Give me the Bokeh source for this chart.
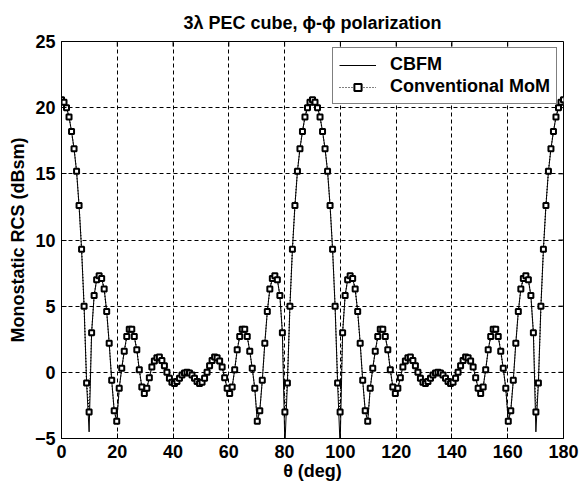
import math
from bokeh.plotting import figure
from bokeh.models import Legend, LegendItem, Range1d, FixedTicker, ColumnDataSource
from bokeh.embed import file_html
from bokeh.resources import INLINE

theta_deg = [round(0.9 * i, 1) for i in range(201)]

# Conventional MoM (markers)
mom_dbsm = [
    20.6, 20.4, 20.0, 19.3, 18.2, 16.9, 15.2, 12.6, 9.3, 5.0, -0.8, -3.0, 3.0, 5.8, 7.0, 7.3, 7.1,
    6.3, 4.6, 2.2, -0.6, -2.9, -3.7, -1.2, 0.3, 1.6, 2.7, 3.25, 3.25, 2.7, 1.7, 0.2, -1.1, -1.6,
    -1.2, -0.4, 0.4, 0.85, 1.1, 1.15, 0.9, 0.5, 0.0, -0.45, -0.75, -0.85, -0.7, -0.45, -0.2, -0.05, 0.0,
    -0.05, -0.2, -0.45, -0.7, -0.85, -0.75, -0.45, 0.0, 0.5, 0.9, 1.15, 1.1, 0.85, 0.4, -0.4, -1.2,
    -1.6, -1.1, 0.2, 1.7, 2.7, 3.25, 3.25, 2.7, 1.6, 0.3, -1.2, -3.7, -2.9, -0.6, 2.2, 4.6, 6.3, 7.1,
    7.3, 7.0, 5.8, 3.0, -3.0, -0.8, 5.0, 9.3, 12.6, 15.2, 16.9, 18.2, 19.3, 20.0, 20.4, 20.6,
    20.4, 20.0, 19.3, 18.2, 16.9, 15.2, 12.6, 9.3, 5.0, -0.8, -3.0, 3.0, 5.8, 7.0, 7.3, 7.1, 6.3,
    4.6, 2.2, -0.6, -2.9, -3.7, -1.2, 0.3, 1.6, 2.7, 3.25, 3.25, 2.7, 1.7, 0.2, -1.1, -1.6, -1.2,
    -0.4, 0.4, 0.85, 1.1, 1.15, 0.9, 0.5, 0.0, -0.45, -0.75, -0.85, -0.7, -0.45, -0.2, -0.05, 0.0,
    -0.05, -0.2, -0.45, -0.7, -0.85, -0.75, -0.45, 0.0, 0.5, 0.9, 1.15, 1.1, 0.85, 0.4, -0.4, -1.2,
    -1.6, -1.1, 0.2, 1.7, 2.7, 3.25, 3.25, 2.7, 1.6, 0.3, -1.2, -3.7, -2.9, -0.6, 2.2, 4.6, 6.3, 7.1,
    7.3, 7.0, 5.8, 3.0, -3.0, -0.8, 5.0, 9.3, 12.6, 15.2, 16.9, 18.2, 19.3, 20.0, 20.4, 20.6,
]

# CBFM (solid line) - same except deeper nulls
cbfm_dbsm = [
    20.6, 20.4, 20.0, 19.3, 18.2, 16.9, 15.2, 12.6, 9.3, 5.0, -0.8, -4.5, 3.0, 5.8, 7.0, 7.3, 7.1,
    6.3, 4.6, 2.2, -0.6, -2.9, -3.7, -1.2, 0.3, 1.6, 2.7, 3.25, 3.25, 2.7, 1.7, 0.2, -1.1, -1.6,
    -1.2, -0.4, 0.4, 0.85, 1.1, 1.15, 0.9, 0.5, 0.0, -0.45, -0.75, -0.85, -0.7, -0.45, -0.2, -0.05, 0.0,
    -0.05, -0.2, -0.45, -0.7, -0.85, -0.75, -0.45, 0.0, 0.5, 0.9, 1.15, 1.1, 0.85, 0.4, -0.4, -1.2,
    -1.6, -1.1, 0.2, 1.7, 2.7, 3.25, 3.25, 2.7, 1.6, 0.3, -1.2, -3.7, -2.9, -0.6, 2.2, 4.6, 6.3, 7.1,
    7.3, 7.0, 5.8, 3.0, -5.6, -0.8, 5.0, 9.3, 12.6, 15.2, 16.9, 18.2, 19.3, 20.0, 20.4, 20.6,
    20.4, 20.0, 19.3, 18.2, 16.9, 15.2, 12.6, 9.3, 5.0, -0.8, -5.6, 3.0, 5.8, 7.0, 7.3, 7.1, 6.3,
    4.6, 2.2, -0.6, -2.9, -3.7, -1.2, 0.3, 1.6, 2.7, 3.25, 3.25, 2.7, 1.7, 0.2, -1.1, -1.6, -1.2,
    -0.4, 0.4, 0.85, 1.1, 1.15, 0.9, 0.5, 0.0, -0.45, -0.75, -0.85, -0.7, -0.45, -0.2, -0.05, 0.0,
    -0.05, -0.2, -0.45, -0.7, -0.85, -0.75, -0.45, 0.0, 0.5, 0.9, 1.15, 1.1, 0.85, 0.4, -0.4, -1.2,
    -1.6, -1.1, 0.2, 1.7, 2.7, 3.25, 3.25, 2.7, 1.6, 0.3, -1.2, -3.7, -2.9, -0.6, 2.2, 4.6, 6.3, 7.1,
    7.3, 7.0, 5.8, 3.0, -4.5, -0.8, 5.0, 9.3, 12.6, 15.2, 16.9, 18.2, 19.3, 20.0, 20.4, 20.6,
]

x_ticks = [0, 20, 40, 60, 80, 100, 120, 140, 160, 180]
y_ticks = [-5, 0, 5, 10, 15, 20, 25]
title_text = "3\u03bb PEC cube, \u03d5-\u03d5 polarization"
x_label = "\u03b8 (deg)"
y_label = "Monostatic RCS (dBsm)"
series_labels = ["CBFM", "Conventional MoM"]

FONT = "Liberation Sans"
FS = "18px"

src = ColumnDataSource(data=dict(theta=theta_deg, mom=mom_dbsm, cbfm=cbfm_dbsm))

p = figure(width=581, height=484, output_backend="svg", toolbar_location=None,
           x_range=Range1d(x_ticks[0], x_ticks[-1]), y_range=Range1d(y_ticks[0], y_ticks[-1]),
           min_border_left=61, min_border_right=18, min_border_top=41, min_border_bottom=46)
p.background_fill_color = "white"
p.border_fill_color = "white"
p.outline_line_color = "black"
p.outline_line_width = 1

p.title.text = title_text
p.title.align = "center"
p.title.text_font = FONT
p.title.text_font_style = "bold"
p.title.text_font_size = "18px"
p.title.text_color = "black"
p.title.standoff = 18

for ax in (p.xaxis[0], p.yaxis[0]):
    ax.major_tick_in = 5
    ax.major_tick_out = 0
    ax.minor_tick_in = 0
    ax.minor_tick_out = 0
    ax.axis_line_color = "black"
    ax.major_tick_line_color = "black"
    ax.major_label_text_font = FONT
    ax.major_label_text_font_style = "bold"
    ax.major_label_text_font_size = FS
    ax.major_label_text_color = "black"
    ax.axis_label_text_font = FONT
    ax.axis_label_text_font_style = "bold"
    ax.axis_label_text_font_size = FS
    ax.axis_label_text_color = "black"
p.xaxis[0].ticker = FixedTicker(ticks=x_ticks)
p.yaxis[0].ticker = FixedTicker(ticks=y_ticks)
p.xaxis[0].axis_label = x_label
p.yaxis[0].axis_label = y_label
p.xaxis[0].major_label_standoff = 6
p.yaxis[0].major_label_standoff = 6
p.xaxis[0].axis_label_standoff = 0
p.yaxis[0].axis_label_standoff = 4

# inward tick marks on the top and right edges of the box (MATLAB style)
p.ray(x=x_ticks, y=[y_ticks[-1]] * len(x_ticks), length=5, length_units="screen",
      angle=-math.pi / 2, line_color="black", line_width=1)
p.ray(x=[x_ticks[-1]] * len(y_ticks), y=y_ticks, length=5, length_units="screen",
      angle=math.pi, line_color="black", line_width=1)

for g in (p.xgrid[0], p.ygrid[0]):
    g.grid_line_color = "black"
    g.grid_line_dash = "4 3"
    g.grid_line_width = 1
p.xgrid[0].ticker = FixedTicker(ticks=x_ticks)
p.ygrid[0].ticker = FixedTicker(ticks=y_ticks)

l_cbfm = p.line("theta", "cbfm", source=src, line_color="black", line_width=1)
l_mom = p.line("theta", "mom", source=src, line_color="black", line_width=1.2, line_dash="1 2")
s_mom = p.scatter("theta", "mom", source=src, marker="square", size=5, line_color="black",
                  line_width=2, fill_color="white")

legend = Legend(items=[LegendItem(label=series_labels[0], renderers=[l_cbfm]),
                       LegendItem(label=series_labels[1], renderers=[l_mom, s_mom])],
                location="top_right")
legend.border_line_color = "black"
legend.border_line_width = 1
legend.background_fill_color = "white"
legend.background_fill_alpha = 1
legend.label_text_font = FONT
legend.label_text_font_style = "bold"
legend.label_text_font_size = FS
legend.label_text_color = "black"
legend.glyph_width = 37
legend.glyph_height = 18
legend.label_standoff = 14
legend.label_height = 18
legend.spacing = 1
legend.padding = 6
legend.margin = 6
p.add_layout(legend)

open("out.html", "w").write(file_html(p, INLINE))
